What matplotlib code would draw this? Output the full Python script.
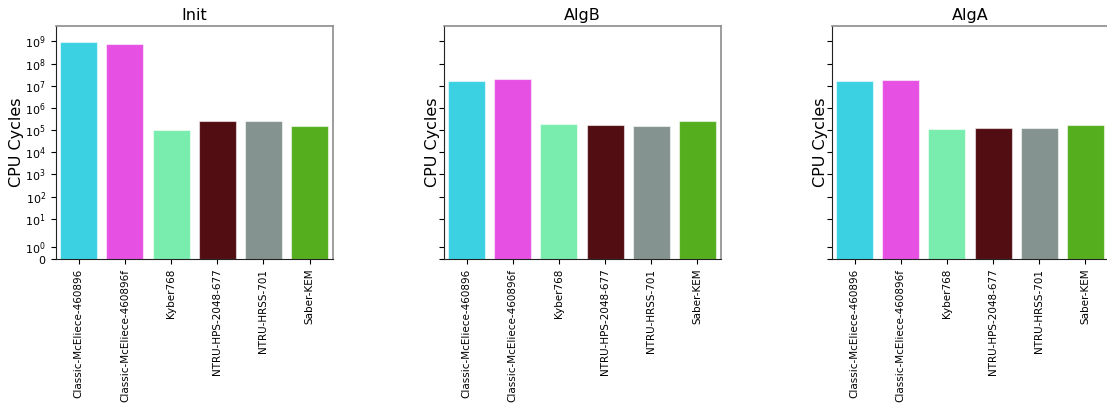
import matplotlib
matplotlib.use("Agg")
import matplotlib.pyplot as plt
from matplotlib.ticker import NullLocator

schemes = ["Classic-McEliece-460896", "Classic-McEliece-460896f", "Kyber768",
           "NTRU-HPS-2048-677", "NTRU-HRSS-701", "Saber-KEM"]
colors = ["#3bd1e3", "#e650e3", "#78edad", "#520d12", "#849290", "#55ae1e"]

panel_titles = ["Init", "AlgB", "AlgA"]
init_cycles = [9.0e8, 7.6e8, 1.05e5, 2.6e5, 2.5e5, 1.5e5]
algb_cycles = [1.68e7, 2.0e7, 1.93e5, 1.74e5, 1.57e5, 2.6e5]
alga_cycles = [1.68e7, 1.86e7, 1.1e5, 1.19e5, 1.27e5, 1.62e5]
panel_values = [init_cycles, algb_cycles, alga_cycles]

W, H = 1107, 405
fig = plt.figure(figsize=(W / 100, H / 100), dpi=100)

ax_w, ax_h = 277, 233
lefts = [55.7, 443.5, 831.5]
bottom = H - 259

axes = []
for i, (title, vals) in enumerate(zip(panel_titles, panel_values)):
    ax = fig.add_axes([lefts[i] / W, bottom / H, ax_w / W, ax_h / H],
                      sharey=axes[0] if axes else None)
    axes.append(ax)
    x = range(len(schemes))
    ax.bar(x, vals, width=0.8, color=colors,
           edgecolor=(1, 1, 1, 0.55), linewidth=0.8)
    ax.set_yscale("symlog")
    ax.set_xlim(-0.5, len(schemes) - 0.5)
    ax.set_ylim(0, 4.9e9)
    ax.yaxis.set_minor_locator(NullLocator())
    ax.set_xticks(list(x))
    ax.set_xticklabels(schemes, rotation=90, fontsize=7.5)
    ax.tick_params(axis="y", labelsize=8)
    ax.set_title(title, fontsize=11.5, pad=4)
    ax.set_ylabel("CPU Cycles", fontsize=11.5, labelpad=-1 if i > 0 else 1)
    for side in ("top", "right"):
        ax.spines[side].set_color("#8c8c8c")
        ax.spines[side].set_linewidth(1.2)
    for side in ("left", "bottom"):
        ax.spines[side].set_color("#222222")
    if i > 0:
        ax.tick_params(axis="y", labelleft=False)

fig.savefig("out.png", dpi=100)
